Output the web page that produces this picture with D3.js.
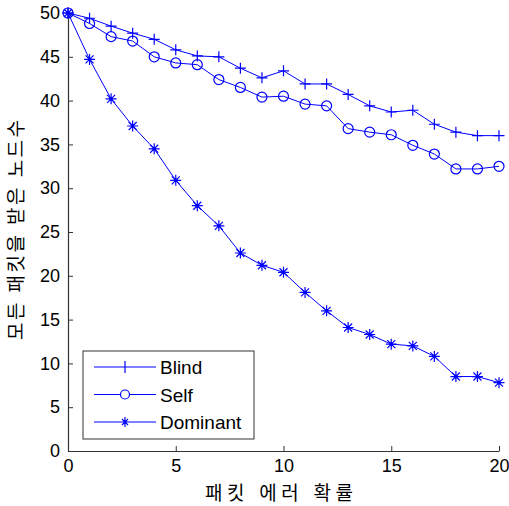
<!DOCTYPE html>
<html lang="ko">
<head>
<meta charset="UTF-8">
<title>패킷 에러 확률</title>
<script src="https://cdn.jsdelivr.net/npm/d3@7"></script>
<style>
	body { margin: 0; background: #fff; }
	svg text { font-family: "Liberation Sans", Arial, sans-serif; }
	.kr { font-family: "Noto Sans CJK KR", sans-serif; }
</style>
</head>
<body>
<div id="viz"></div>
<script>
// packet error probability (x)
const errorRate = d3.range(0, 21);
const blind = [50, 49.4, 48.5, 47.7, 47.0, 45.8, 45.1, 45.0, 43.7, 42.6, 43.4, 41.9, 41.9, 40.7, 39.4, 38.7, 38.9, 37.3, 36.4, 36.0, 36.0];
const self = [50, 48.8, 47.3, 46.8, 45.0, 44.3, 44.1, 42.4, 41.5, 40.4, 40.5, 39.6, 39.4, 36.8, 36.4, 36.1, 34.9, 33.9, 32.2, 32.2, 32.5];
const dominant = [50, 44.7, 40.2, 37.1, 34.5, 30.9, 28.0, 25.7, 22.6, 21.2, 20.4, 18.1, 16.0, 14.1, 13.3, 12.2, 12.0, 10.8, 8.5, 8.5, 7.8];
const seriesNames = ['Blind', 'Self', 'Dominant'];
const markers = ['plus', 'circle', 'star'];
const xTicks = [0, 5, 10, 15, 20];
const yTicks = [0, 5, 10, 15, 20, 25, 30, 35, 40, 45, 50];

const W = 509, H = 506;
const margin = {top: 13, left: 68};

const blue = '#0000ff';

const svg = d3.select('#viz').append('svg')
	.attr('width', W).attr('height', H);

const g = svg.append('g')
	.attr('transform', 'translate(' + margin.left + ',' + margin.top + ')');

const x = d3.scaleLinear().domain([0, 20]).range([0, 431]);
const y = d3.scaleLinear().domain([0, 50]).range([438, 0]);

// axes, ticks pointing inward like MATLAB
const xAxis = d3.axisBottom(x).tickValues(xTicks).tickSizeInner(-5).tickSizeOuter(0).tickPadding(8);
const yAxis = d3.axisLeft(y).tickValues(yTicks).tickSizeInner(-5).tickSizeOuter(0).tickPadding(8);

const gx = g.append('g').attr('transform', 'translate(0,438)').call(xAxis);
const gy = g.append('g').call(yAxis);
[gx, gy].forEach(a => {
	a.select('.domain').attr('stroke', '#333').attr('stroke-width', 1.2);
	a.selectAll('.tick line').attr('stroke', '#333');
	a.selectAll('.tick text').attr('font-size', 18).attr('fill', '#000')
		.style('font-family', '"Liberation Sans", Arial, sans-serif');
});
gx.selectAll('.tick text').attr('dy', '0.71em');

// axis labels
svg.append('text').attr('class', 'kr')
	.attr('x', 205).attr('y', 500)
	.attr('font-size', 19)
	.attr('textLength', 148).attr('lengthAdjust', 'spacing')
	.text('패킷 에러 확률');

svg.append('text').attr('class', 'kr')
	.attr('transform', 'translate(23,340) rotate(-90)')
	.attr('font-size', 19)
	.attr('textLength', 220).attr('lengthAdjust', 'spacing')
	.text('모든 패킷을 받은 노드수');

function drawMarker(sel, type) {
	if (type === 'plus') {
		sel.append('path').attr('d', 'M-5.5,0H5.5M0,-5.5V5.5');
	} else if (type === 'circle') {
		sel.append('circle').attr('r', 5).attr('fill', 'none');
	} else {
		sel.append('path').attr('d', 'M-5.5,0H5.5M0,-5.5V5.5M-4,-4L4,4M-4,4L4,-4');
		sel.append('circle').attr('r', 1.8).attr('fill', blue).attr('stroke', 'none');
	}
}

const allSeries = [blind, self, dominant];
const line = d3.line().x((d, i) => x(errorRate[i])).y(d => y(d));

allSeries.forEach((vals, k) => {
	g.append('path').datum(vals)
		.attr('d', line)
		.attr('fill', 'none').attr('stroke', blue).attr('stroke-width', 1);
	vals.forEach((v, i) => {
		const m = g.append('g')
			.attr('transform', 'translate(' + x(errorRate[i]) + ',' + y(v) + ')')
			.attr('stroke', blue).attr('stroke-width', 1.2).attr('fill', 'none');
		drawMarker(m, markers[k]);
	});
});

// legend
const lg = svg.append('g').attr('transform', 'translate(83,351)');
lg.append('rect').attr('width', 171).attr('height', 88)
	.attr('fill', '#fff').attr('stroke', '#333').attr('stroke-width', 1);
seriesNames.forEach((name, k) => {
	const yy = 16 + k * 27.5;
	lg.append('line').attr('x1', 11).attr('x2', 73).attr('y1', yy).attr('y2', yy)
		.attr('stroke', blue).attr('stroke-width', 1);
	const m = lg.append('g').attr('transform', 'translate(42,' + yy + ')')
		.attr('stroke', blue).attr('stroke-width', 1.2).attr('fill', 'none');
	if (markers[k] === 'plus') m.append('path').attr('d', 'M0,-6V6');
	else if (markers[k] === 'circle') m.append('circle').attr('r', 4.5).attr('fill', '#fff');
	else {
		m.append('path').attr('d', 'M0,-5V5M-3,-3L3,3M-3,3L3,-3');
		m.append('circle').attr('r', 1.5).attr('fill', blue).attr('stroke', 'none');
	}
	lg.append('text').attr('x', 77).attr('y', yy + 7)
		.attr('font-size', 19).text(name);
});
</script>
</body>
</html>
